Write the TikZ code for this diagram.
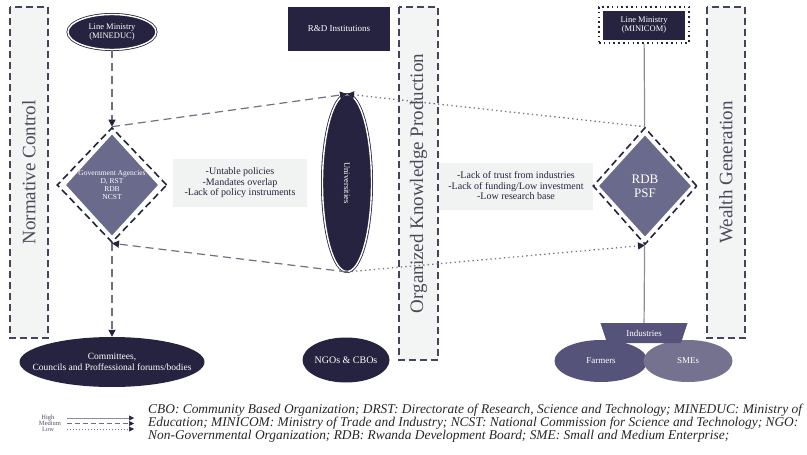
\documentclass[tikz,border=0pt]{standalone}
\usepackage{fontspec}
\setmainfont{Liberation Serif}
\usetikzlibrary{shapes.geometric}
\usetikzlibrary{positioning}
\usetikzlibrary{arrows.meta}

\definecolor{navy}{HTML}{25233F}
\definecolor{slate}{HTML}{6A6A8C}
\definecolor{plum}{HTML}{55537A}
\definecolor{lilac}{HTML}{74728F}
\definecolor{bandgray}{HTML}{F3F4F4}
\definecolor{boxgray}{HTML}{F1F2F2}
\definecolor{linegray}{HTML}{707080}
\definecolor{textgray}{HTML}{4A4A5C}

\tikzset{
  band/.style={draw=navy!85, fill=bandgray, line width=1.6pt, dash pattern=on 7pt off 4pt,
    rotate=90, text=textgray, font=\fontsize{19}{19}\selectfont, inner sep=0pt},
  darkoval/.style={ellipse, fill=navy, text=white, inner sep=0pt, align=center},
  doubleoval/.style={darkoval, draw=navy, double=white, double distance=1.4pt, line width=0.8pt},
  darkbox/.style={rectangle, fill=navy, text=white, inner sep=0pt, align=center},
  dottedframe/.style={rectangle, draw=navy, line width=1.5pt, dash pattern=on 1.6pt off 3.2pt},
  agencyframe/.style={diamond, draw=navy, line width=1.6pt, dash pattern=on 7pt off 4pt, inner sep=0pt},
  agency/.style={diamond, fill=slate, text=white, inner sep=0pt, align=center},
  ovaltext/.style={text=white, align=center},
  issuebox/.style={rectangle, fill=boxgray, text=navy, align=center, inner sep=0pt,
    font=\fontsize{10}{10.5}\selectfont},
  tip/.style={-{Triangle[length=7pt,width=7pt,color=navy]}},
  smalltip/.style={-{Triangle[length=5pt,width=5pt,color=navy]}},
  high/.style={draw=linegray!80, line width=1.2pt},
  medium/.style={draw=linegray, line width=1.2pt, dash pattern=on 8pt off 5pt},
  low/.style={draw=linegray, line width=1.3pt, dash pattern=on 1.3pt off 3.2pt},
  legendlabel/.style={text=navy!80, font=\fontsize{6.5}{6.5}\selectfont, inner sep=0pt}
}

\begin{document}
\begin{tikzpicture}[x=1pt,y=-1pt]

    \useasboundingbox (0,0) rectangle (807,455);

    % the three bands
    \node (normative) [band, minimum width=331pt, minimum height=38pt] at (29,172.5) {Normative Control};
    \node (organized) [band, minimum width=353pt, minimum height=39pt] at (418.5,183.5) {Organized Knowledge Production};
    \node (wealth) [band, minimum width=331pt, minimum height=38pt] at (726,172.5) {Wealth Generation};

    % issue boxes
    \node (policyissues) [issuebox, minimum width=134pt, minimum height=48pt] at (240,183)
        {-Untable policies\\-Mandates overlap\\-Lack of policy instruments};
    \node (fundingissues) [issuebox, minimum width=154pt, minimum height=47pt] at (516,186)
        {-Lack of trust from industries\\-Lack of funding/Low investment\\-Low research base};

    % left column
    \node (mineduc) [doubleoval, minimum width=88pt, minimum height=35pt,
        font=\fontsize{8.5}{9}\selectfont] at (112,32) {Line Ministry\\(MINEDUC)};
    \node (gov) [agencyframe, minimum width=110pt, minimum height=115pt] at (112,185) {};
    \node (govfill) [agency, minimum width=92pt, minimum height=101pt,
        label={[ovaltext, font=\fontsize{7.5}{8}\selectfont]center:Government Agencies\\D, RST\\RDB\\NCST}] at (gov) {};
    \node (committees) [darkoval, minimum width=185pt, minimum height=50pt,
        label={[ovaltext, font=\fontsize{9.5}{11}\selectfont]center:Committees,\\Councils and Proffessional forums/bodies}] at (112,362) {};

    % middle column
    \node (rnd) [darkbox, minimum width=102pt, minimum height=44pt,
        font=\fontsize{9}{9}\selectfont] at (339,29) {R\&D Institutions};
    \node (univ) [doubleoval, minimum width=49pt, minimum height=177pt,
        label={[ovaltext, rotate=-90, font=\fontsize{8.5}{9}\selectfont]center:Universities}] at (347,183) {};
    \node (ngos) [darkoval, minimum width=87pt, minimum height=45pt,
        label={[ovaltext, font=\fontsize{10}{10}\selectfont]center:NGOs \& CBOs}] at (346,360) {};

    % right column
    \node (minicom) [dottedframe, minimum width=90pt, minimum height=36pt] at (644,25) {};
    \node (minicomfill) [darkbox, minimum width=82pt, minimum height=29pt,
        font=\fontsize{8.5}{9}\selectfont] at (minicom) {Line Ministry\\(MINICOM)};
    \node (rdb) [agencyframe, minimum width=104pt, minimum height=117pt] at (645,186) {};
    \node (rdbfill) [agency, minimum width=92pt, minimum height=101pt,
        font=\fontsize{13}{14}\selectfont] at (rdb) {RDB\\PSF};
    \node (farmers) [darkoval, fill=plum, minimum width=93pt, minimum height=42pt,
        font=\fontsize{9}{9}\selectfont] at (601,361) {Farmers};
    \node (smes) [darkoval, fill=lilac, minimum width=89pt, minimum height=42pt,
        font=\fontsize{9}{9}\selectfont] at (688,361) {SMEs};
    \node (industries) [trapezium, trapezium angle=44, trapezium stretches body,
        shape border rotate=180, fill=plum, text=white, inner sep=0pt,
        minimum width=87pt, minimum height=20pt, font=\fontsize{9}{9}\selectfont] at (644,333) {Industries};

    % links
    \draw[medium, tip] (mineduc) -- (gov);
    \draw[medium, tip] (gov) -- (committees);
    \draw[medium, tip] (gov.north) -- (univ.north);
    \draw[medium, tip] (univ.south) -- (gov.south);
    \draw[low, tip] (rdb.north) -- (univ.north);
    \draw[low, tip] (univ.south) -- (rdb.south);
    \draw[high] (minicom) -- (rdb);
    \draw[high] (rdb) -- (industries);

    % legend
    \node (high) [legendlabel] at (48,418) {High};
    \node (medium) [legendlabel] at (50,423.5) {Medium};
    \node (low) [legendlabel] at (48,429) {Low};
    \coordinate (highstart) at (67,418);
    \coordinate (highend) at (134,418);
    \coordinate (mediumstart) at (67,423.5);
    \coordinate (mediumend) at (134,423.5);
    \coordinate (lowstart) at (67,429);
    \coordinate (lowend) at (134,429);
    \draw[high, line width=0.6pt, smalltip] (highstart) -- (highend);
    \draw[medium, line width=0.6pt, dash pattern=on 5pt off 3pt, smalltip] (mediumstart) -- (mediumend);
    \draw[low, line width=0.6pt, dash pattern=on 0.8pt off 2.2pt, smalltip] (lowstart) -- (lowend);

    \node (abbrev) [anchor=north west, align=left, inner sep=0pt, text=black!85,
        font=\itshape\fontsize{13.4}{13}\selectfont] at (148,404)
        {CBO: Community Based Organization; DRST: Directorate of Research, Science and Technology; MINEDUC: Ministry of\\
         Education; MINICOM: Ministry of Trade and Industry; NCST: National Commission for Science and Technology; NGO:\\
         Non-Governmental Organization; RDB: Rwanda Development Board; SME: Small and Medium Enterprise;};

\end{tikzpicture}
\end{document}
